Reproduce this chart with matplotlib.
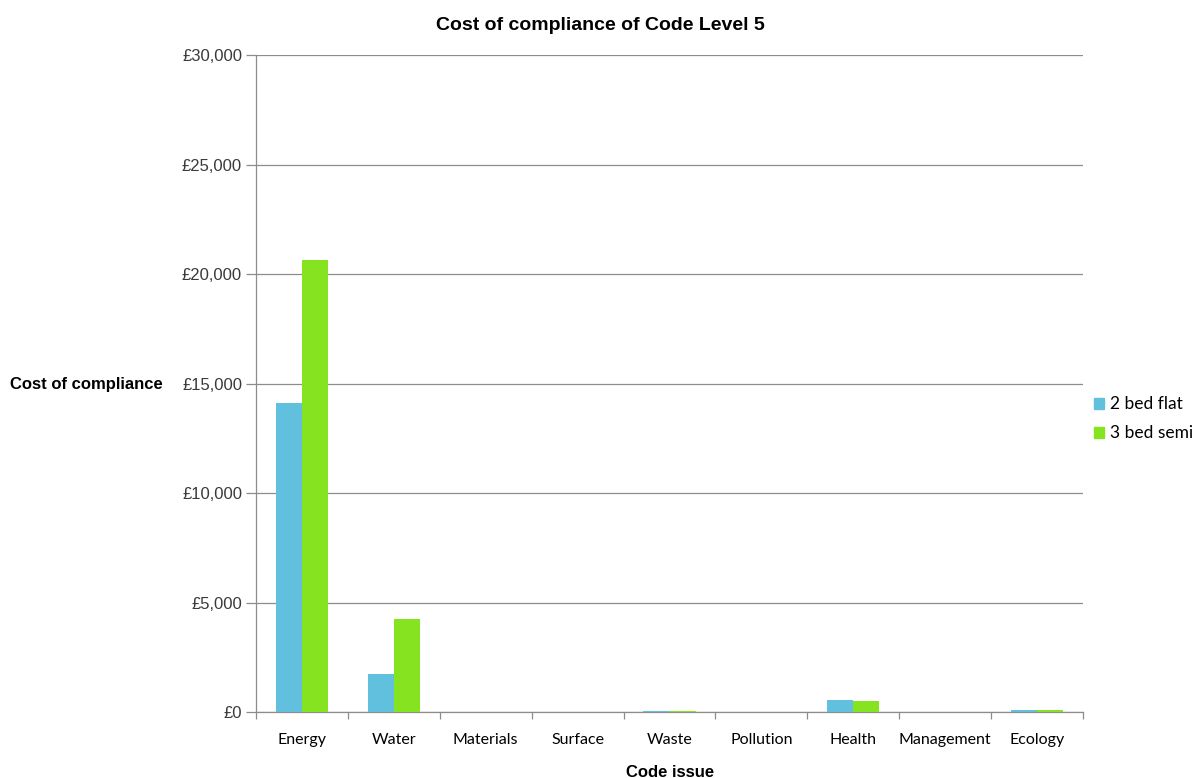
import matplotlib
matplotlib.use("Agg")
import matplotlib.pyplot as plt
import numpy as np
from matplotlib.ticker import FuncFormatter, MultipleLocator
from matplotlib.patches import Patch

categories = ["Energy", "Water", "Materials", "Surface", "Waste",
              "Pollution", "Health", "Management", "Ecology"]
flat_2bed = [14100, 1750, 0, 0, 40, 0, 550, 0, 100]
semi_3bed = [20650, 4250, 0, 0, 40, 0, 500, 0, 100]
series_names = ["2 bed flat", "3 bed semi"]
colors = ["#62C0DF", "#86E31F"]

plt.rcParams["font.family"] = ["Liberation Sans", "DejaVu Sans"]
label_font = ["Lato", "DejaVu Sans"]

fig = plt.figure(figsize=(12, 7.78), dpi=100)
ax = fig.add_axes([0.2133, 0.0848, 0.6892, 0.8445])

x = np.arange(len(categories))
w = 0.285
ax.bar(x - w / 2, flat_2bed, w, color=colors[0], zorder=3)
ax.bar(x + w / 2, semi_3bed, w, color=colors[1], zorder=3)

ax.set_xlim(-0.5, len(categories) - 0.5)
ax.set_ylim(0, 30000)
ax.yaxis.set_major_locator(MultipleLocator(5000))
ax.yaxis.set_major_formatter(FuncFormatter(lambda v, p: f"£{int(v):,}"))
ax.grid(axis="y", color="#8c8c8c", linewidth=0.9, zorder=0)

ax.set_xticks(x)
ax.set_xticklabels(categories, fontsize=11.5, family=label_font)
ax.tick_params(axis="x", which="major", length=0, pad=15)
ax.set_xticks(np.arange(-0.5, len(categories), 1.0), minor=True)
ax.tick_params(axis="x", which="minor", length=5, color="#8c8c8c", width=0.9)
ax.tick_params(axis="y", length=7, color="#8c8c8c", width=0.9,
               labelsize=12, labelcolor="#3a3a3a", pad=3)

for s in ["top", "right"]:
    ax.spines[s].set_visible(False)
for s in ["left", "bottom"]:
    ax.spines[s].set_color("#8c8c8c")
    ax.spines[s].set_linewidth(0.9)

fig.text(0.5, 0.967, "Cost of compliance of Code Level 5", ha="center",
         va="center", fontsize=14, fontweight="bold")
fig.text(0.0085, 0.506, "Cost of compliance", ha="left", va="center",
         fontsize=12, fontweight="bold")
fig.text(0.558, 0.007, "Code issue", ha="center", va="center",
         fontsize=12, fontweight="bold")

handles = [Patch(color=c) for c in colors]
fig.legend(handles, series_names, loc="center left",
           bbox_to_anchor=(0.899, 0.4615), frameon=False,
           prop={"family": label_font, "size": 12.5},
           handlelength=0.55, handleheight=0.55, handletextpad=0.35,
           labelspacing=0.75)

fig.savefig("out.png", dpi=100)
